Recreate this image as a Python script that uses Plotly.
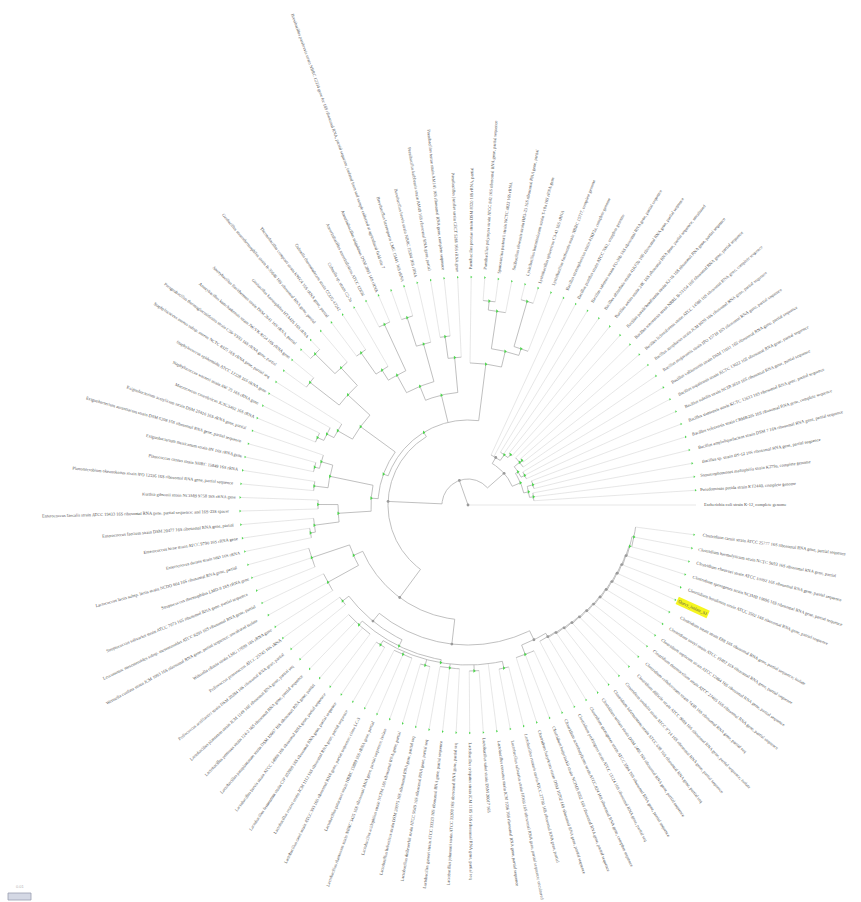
import math
import plotly.graph_objects as go

# ---------------- data ----------------
node_name = ["root", "A", "D", "Da", "Da1", "Da2", "Db", "Db1", "Db1a", "Db1b", "Db2", "Db2a", "Db2b", "Db2c",
             "B", "T", "Ta", "Ta1", "Ta1a", "Ta1a1", "Ta1b", "Ta1b1", "Tb", "Tb1", "Tb1a", "Tb2", "Tb2a", "Tb2a1",
             "Tb2b", "Tb2b1", "Tb2b2", "Tb2b3", "T2", "Tm", "Tm1", "Tm1a", "Tm1a1", "Tm1b", "Tm2", "Tm2a", "Tm2b",
             "L", "Lc1", "Lc1a", "Lc1a1", "Lc1b", "Lc2", "Lc2a", "Lc2b", "Lc2b1",
             "H", "H1", "H1a", "H1b", "E", "F", "F1", "F2", "F2a", "F2b", "F2b1", "F2b2", "F2b3", "F2b4", "F2b5", "F2b6",
             "G0", "Gsub", "G1", "G2", "G3", "G4", "G5", "G6", "G7", "G8", "G9", "G10", "G11", "G12", "G13", "G14", "G15"]
node_parent = [None, "root", "A", "D", "Da", "Da1", "D", "Db", "Db1", "Db1", "Db", "Db2", "Db2", "Db2b",
               "A", "B", "T", "Ta", "Ta1", "Ta1a", "Ta1", "Ta1b", "T", "Tb", "Tb1", "Tb", "Tb2", "Tb2a",
               "Tb2", "Tb2b", "Tb2b", "Tb2b2", "T", "T2", "Tm", "Tm1", "Tm1a", "Tm1", "Tm", "Tm2", "Tm2a",
               "T2", "L", "Lc1", "Lc1a", "Lc1", "L", "Lc2", "Lc2", "Lc2b",
               "B", "H", "H1", "H1", "H", "E", "F", "F", "F2", "F2", "F2b", "F2b", "F2b", "F2b", "F2b", "F2b",
               "E", "G0", "G0", "G1", "G2", "G3", "G4", "G5", "G6", "G7", "G8", "G9", "G10", "G11", "G12", "G13", "G14"]
node_radius = [0, 26, 48, 55, 62, 66, 57, 62, 66, 68, 60, 64, 67, 70,
               80, 85, 142, 158, 165, 212, 196, 205, 113, 148, 170, 128, 167, 197,
               148, 199, 160, 186, 90, 133, 163, 187, 215, 200, 150, 158, 165,
               97, 141, 153, 158, 155, 130, 150, 155, 160,
               115, 125, 165, 160, 140, 150, 158, 157, 162, 160, 165, 163, 166, 164, 166, 167,
               150, 160, 154, 155, 156, 157, 158, 159, 160, 161, 162, 163, 164, 165, 166, 167, 169]
node_mark = ["k", "k", "k", "k", "g", "g", "g", "g", "g", "g", "g", "g", "g", "g",
             "k", "g", "g", "g", "g", "g", "g", "g", "g", "g", "g", "g", "g", "g",
             "g", "g", "g", "g", "g", "g", "g", "g", "g", "g", "g", "g", "g",
             "g", "g", "g", "g", "g", "g", "g", "g", "g",
             "k", "g", "g", "g", "k", "k", "g", "g", "g", "g", "g", "g", "g", "g", "g", "g",
             "k", "g", "k", "k", "k", "k", "k", "k", "k", "k", "k", "k", "k", "k", "k", "g", "g"]

leaf_parent = (["Db1a"] * 3 + ["Db1b"] * 3 + ["Db2a"] * 3 + ["Db2b", "Db2c", "Db2c", "Db2b", "Da2", "Da2",
                "Da1", "Da1", "Da", "Da"] +
               ["Ta1a", "Ta1a1", "Ta1a1", "Ta1b", "Ta1b1", "Ta1b1", "Ta",
                "Tb1", "Tb1a", "Tb1a", "Tb2a", "Tb2a1", "Tb2a1", "Tb2b1", "Tb2b1", "Tb2b2", "Tb2b3", "Tb2b3",
                "Tm1a", "Tm1a1", "Tm1a1", "Tm1b", "Tm1b", "Tm2", "Tm2a", "Tm2b", "Tm2b",
                "Lc1a", "Lc1a1", "Lc1a1", "Lc1b", "Lc1b", "Lc2a", "Lc2a", "Lc2b", "Lc2b1", "Lc2b1",
                "H1a", "H1a", "H1a", "H1b", "H1b", "H1b",
                "F1", "F1", "F2a", "F2a", "F2a", "F2a", "F2b1", "F2b1", "F2b2", "F2b2", "F2b2",
                "F2b3", "F2b3", "F2b4", "F2b4", "F2b4", "F2b5", "F2b5", "F2b", "F2b6", "F2b6",
                "Gsub", "Gsub", "Gsub", "G1", "G2", "G3", "G4", "G5", "G6", "G7", "G8", "G9", "G10",
                "G11", "G12", "G13", "G14", "G15", "G15", "G15"])

leaf_label = [
    "Pseudomonas putida strain KT2440, complete genome",
    "Stenotrophomonas maltophilia strain K279a, complete genome",
    "Bacillus sp. strain BS-12 16S ribosomal RNA gene, partial sequence",
    "Bacillus amyloliquefaciens strain DSM 7 16S ribosomal RNA gene, partial sequence",
    "Bacillus velezensis strain CBMB205 16S ribosomal RNA gene, complete sequence",
    "Bacillus siamensis strain KCTC 13613 16S ribosomal RNA gene, partial sequence",
    "Bacillus subtilis strain NCIB 3610 16S ribosomal RNA gene, partial sequence",
    "Bacillus tequilensis strain KCTC 13622 16S ribosomal RNA gene, partial sequence",
    "Bacillus vallismortis strain DSM 11031 16S ribosomal RNA gene, partial sequence",
    "Bacillus mojavensis strain IFO 15718 16S ribosomal RNA gene, partial sequence",
    "Bacillus atrophaeus strain JCM 9070 16S ribosomal RNA gene, partial sequence",
    "Bacillus licheniformis strain ATCC 14580 16S ribosomal RNA gene, complete sequence",
    "Bacillus sonorensis strain NRRL B-23154 16S ribosomal RNA gene, partial sequence",
    "Bacillus paralicheniformis strain KJ-16 16S ribosomal RNA gene, partial sequence",
    "Bacillus aerius strain 24K 16S ribosomal RNA gene, partial sequence; uncultured",
    "Bacillus altitudinis strain 41KF2b 16S ribosomal RNA gene, partial sequence",
    "Bacillus safensis strain FO-36b 16S ribosomal RNA gene, partial sequence",
    "Bacillus pumilus strain ATCC 7061, complete genome",
    "Bacillus stratosphericus strain 41KF2a, complete genome",
    "Lysinibacillus fusiformis strain NBRC 15717, complete genome",
    "Lysinibacillus sphaericus C3-41 16S rRNA",
    "Lysinibacillus boronitolerans strain T-10a 16S rRNA gene",
    "Solibacillus silvestris strain HR3-23 16S ribosomal RNA gene, partial",
    "Sporosarcina pasteurii strain NCTC 4822 16S rRNA",
    "Paenibacillus polymyxa strain ATCC 842 16S ribosomal RNA gene, partial sequence",
    "Paenibacillus peoriae strain DSM 8320 16S rRNA, partial",
    "Paenibacillus jamilae strain CECT 5266 16S rRNA gene",
    "Paenibacillus terrae strain AM141 16S ribosomal RNA gene, complete sequence",
    "Paenibacillus kribbensis strain AM49 16S ribosomal RNA gene, partial",
    "Brevibacillus brevis strain NBRC 15304 16S rRNA",
    "Brevibacillus laterosporus LMG 15441 16S rRNA",
    "Brevibacillus parabrevis strain NBRC 12334 gene for 16S ribosomal RNA, partial sequence, isolated from soil sample collected at agricultural field site 7",
    "Aneurinibacillus migulanus DSM 2895 16S rRNA",
    "Aneurinibacillus aneurinilyticus ATCC 12856",
    "Cohnella sp. strain C2-7a",
    "Cohnella thermotolerans strain CCUG 47242",
    "Thermobacillus composti strain KWC4 16S rRNA gene, partial",
    "Geobacillus stearothermophilus strain R-35646 16S ribosomal RNA gene, partial",
    "Geobacillus kaustophilus HTA426 16S rRNA",
    "Anoxybacillus flavithermus strain DSM 2641 16S rRNA, partial",
    "Anoxybacillus kamchatkensis strain JW/VK-KG4 16S rRNA gene",
    "Parageobacillus thermoglucosidasius strain C56-YS93 16S rRNA gene, partial",
    "Staphylococcus aureus subsp. aureus NCTC 8325 16S rRNA gene, partial seq",
    "Staphylococcus epidermidis ATCC 12228 16S rRNA gene",
    "Staphylococcus warneri strain AW 25 16S rRNA gene",
    "Macrococcus caseolyticus JCSC5402 16S rRNA",
    "Exiguobacterium acetylicum strain DSM 20416 16S rRNA gene, partial",
    "Exiguobacterium aurantiacum strain DSM 6208 16S ribosomal RNA gene, partial sequence",
    "Exiguobacterium mexicanum strain 8N 16S rRNA gene",
    "Planococcus citreus strain NBRC 15849 16S rRNA",
    "Planomicrobium okeanokoites strain IFO 12536 16S ribosomal RNA gene, partial sequence",
    "Kurthia gibsonii strain NCIMB 9758 16S rRNA gene",
    "Enterococcus faecalis strain ATCC 19433 16S ribosomal RNA gene, partial sequence; and 16S-23S spacer",
    "Enterococcus faecium strain DSM 20477 16S ribosomal RNA gene, partial",
    "Enterococcus hirae strain ATCC 9790 16S rRNA gene",
    "Enterococcus durans strain 98D 16S rRNA",
    "Lactococcus lactis subsp. lactis strain NCDO 604 16S ribosomal RNA gene, partial",
    "Streptococcus thermophilus LMD-9 16S rRNA gene",
    "Streptococcus salivarius strain ATCC 7073 16S ribosomal RNA gene, partial sequence",
    "Leuconostoc mesenteroides subsp. mesenteroides ATCC 8293 16S ribosomal RNA gene, partial",
    "Weissella confusa strain JCM 1093 16S ribosomal RNA gene, partial sequence; uncultured isolate",
    "Weissella cibaria strain LMG 17699 16S rRNA gene",
    "Pediococcus pentosaceus ATCC 25745 16S rRNA",
    "Pediococcus acidilactici strain DSM 20284 16S ribosomal RNA gene, partial",
    "Lactobacillus plantarum strain JCM 1149 16S ribosomal RNA gene, partial seq",
    "Lactobacillus pentosus strain 124-2 16S ribosomal RNA gene, partial sequence",
    "Lactobacillus paraplantarum strain DSM 10667 16S ribosomal RNA gene, partial",
    "Lactobacillus brevis strain ATCC 14869 16S ribosomal RNA gene, partial sequence",
    "Lactobacillus fermentum strain CIP 102980 16S ribosomal RNA gene, partial sequence",
    "Lactobacillus reuteri strain JCM 1112 16S ribosomal RNA gene, partial sequence",
    "Lactobacillus casei strain ATCC 393 16S ribosomal RNA gene, partial sequence; clone LC-3",
    "Lactobacillus paracasei strain NBRC 15889 16S rRNA gene, partial",
    "Lactobacillus rhamnosus strain NBRC 3425 16S ribosomal RNA gene, partial sequence, isolate",
    "Lactobacillus acidophilus strain NCFM 16S ribosomal RNA gene, partial",
    "Lactobacillus helveticus strain DSM 20075 16S ribosomal RNA gene, partial seq",
    "Lactobacillus delbrueckii strain ATCC 9649 16S ribosomal RNA gene, partial seq",
    "Lactobacillus gasseri strain ATCC 33323 16S ribosomal RNA gene, partial sequence",
    "Lactobacillus johnsonii strain ATCC 33200 16S ribosomal RNA gene, partial seq",
    "Lactobacillus crispatus strain JCM 1185 16S ribosomal RNA gene, partial seq",
    "Lactobacillus sakei strain DSM 20017 16S",
    "Lactobacillus curvatus strain JCM 1096 16S ribosomal RNA gene, partial sequence",
    "Lactobacillus salivarius strain HO66 16S ribosomal RNA gene, partial sequence; uncultured",
    "Lactobacillus ruminis strain ATCC 27780 16S ribosomal RNA gene, partial",
    "Clostridium butyricum strain DSM 10702 16S ribosomal RNA gene, partial sequence",
    "Clostridium beijerinckii strain NCIMB 8052 16S ribosomal RNA gene, partial sequence",
    "Clostridium acetobutylicum strain ATCC 824 16S ribosomal RNA gene, complete sequence",
    "Clostridium perfringens strain ATCC 13124 16S ribosomal RNA gene, partial seq",
    "Clostridium sporogenes strain ATCC 3584 16S ribosomal RNA gene, partial sequence",
    "Clostridium tertium strain DSM 2485 16S ribosomal RNA gene, partial sequence",
    "Clostridium bifermentans strain ATCC 638 16S ribosomal RNA gene, partial seq",
    "Clostridium sordellii strain ATCC 9714 16S ribosomal RNA gene, partial sequence",
    "Clostridium difficile strain ATCC 9689 16S ribosomal RNA gene, partial sequence; isolate",
    "Clostridium cellulovorans strain 743B 16S ribosomal RNA gene, partial seq",
    "Clostridium thermocellum strain ATCC 27405 16S ribosomal RNA gene, partial sequence",
    "Clostridium septicum strain ATCC 12464 16S ribosomal RNA gene, partial sequence",
    "Clostridium novyi strain ATCC 19402 16S ribosomal RNA gene, partial sequence",
    "Clostridium tetani strain E88 16S ribosomal RNA gene, partial sequence; isolate",
    "Query_isolate_S1",
    "Clostridium botulinum strain ATCC 3502 16S ribosomal RNA gene, partial sequence",
    "Clostridium sporogenes strain NCIMB 10696 16S ribosomal RNA gene, partial sequence",
    "Clostridium chauvoei strain ATCC 10092 16S ribosomal RNA gene, partial sequence",
    "Clostridium haemolyticum strain NCTC 9693 16S ribosomal RNA gene, partial",
    "Clostridium carnis strain ATCC 25777 16S ribosomal RNA gene, partial sequence",
]
outgroup_label = "Escherichia coli strain K-12, complete genome"
highlight_label = "Query_isolate_S1"

# ---------------- layout constants ----------------
W, H = 861, 902
CX, CY = 468, 505            # tree centre on the page (pixels)
START_DEG, END_DEG = 3.7, 352.5
TIP_R, LABEL_R = 228, 231
FS = 4.4
CHAR_W = 0.46 * FS
GREEN = "#4cd64c"
BRANCH = "#ababab"
LEAFLINE = "#dcdcdc"

n = len(leaf_label)
step = (END_DEG - START_DEG) / (n - 1)
leaf_deg = [START_DEG + i * step for i in range(n)]

idx = {nm: i for i, nm in enumerate(node_name)}
children = {nm: [] for nm in node_name}   # entries: ("node", name) or ("leaf", i)
for nm, par in zip(node_name, node_parent):
    if par is not None:
        children[par].append(("node", nm))
for i, par in enumerate(leaf_parent):
    children[par].append(("leaf", i))
children["root"].append(("out", 0))

node_deg = {}


def angle_of(kind, key):
    if kind == "leaf":
        return leaf_deg[key]
    if kind == "out":
        return 0.0
    if key in node_deg:
        return node_deg[key]
    angs = [angle_of(k, c) for k, c in children[key]]
    if key == "root":
        node_deg[key] = 0.0
    else:
        node_deg[key] = (min(angs) + max(angs)) / 2
    return node_deg[key]


for nm in node_name:
    angle_of("node", nm)


def pol(r, d):
    a = math.radians(d)
    return r * math.cos(a), r * math.sin(a)


bx, by = [], []   # internal branches
lx, ly = [], []   # leaf branches
for nm in node_name:
    r = node_radius[idx[nm]]
    kids = children[nm]
    angs = [angle_of(k, c) for k, c in kids]
    if nm != "root":
        a0, a1 = min(angs), max(angs)
        m = max(2, int((a1 - a0) / 0.5) + 1)
        for j in range(m + 1):
            x, y = pol(r, a0 + (a1 - a0) * j / m)
            bx.append(x); by.append(y)
        bx.append(None); by.append(None)
    for (k, c), a in zip(kids, angs):
        if k == "node":
            x0, y0 = pol(r, a); x1, y1 = pol(node_radius[idx[c]], a)
            bx += [x0, x1, None]; by += [y0, y1, None]
        else:
            x0, y0 = pol(r, a); x1, y1 = pol(TIP_R, a)
            lx += [x0, x1, None]; ly += [y0, y1, None]

fig = go.Figure()
fig.add_trace(go.Scatter(x=lx, y=ly, mode="lines", line=dict(color=LEAFLINE, width=0.7),
                         hoverinfo="skip", showlegend=False))
fig.add_trace(go.Scatter(x=bx, y=by, mode="lines", line=dict(color=BRANCH, width=0.75),
                         hoverinfo="skip", showlegend=False))

gx, gy, kx, ky = [], [], [], []
for nm in node_name:
    x, y = pol(node_radius[idx[nm]], node_deg[nm])
    if node_mark[idx[nm]] == "g":
        gx.append(x); gy.append(y)
    else:
        kx.append(x); ky.append(y)
fig.add_trace(go.Scatter(x=gx, y=gy, mode="markers", marker=dict(color=GREEN, size=3.2, symbol="triangle-right"),
                         hoverinfo="skip", showlegend=False))
fig.add_trace(go.Scatter(x=kx, y=ky, mode="markers", marker=dict(color="#9a9a9a", size=2.8),
                         hoverinfo="skip", showlegend=False))
tx = [pol(TIP_R, d)[0] for d in leaf_deg]
ty = [pol(TIP_R, d)[1] for d in leaf_deg]
fig.add_trace(go.Scatter(x=tx, y=ty, mode="markers", marker=dict(color=GREEN, size=2.3, symbol="triangle-right"),
                         hoverinfo="skip", showlegend=False))

annotations = []
all_labels = [(d, t) for d, t in zip(leaf_deg, leaf_label)] + [(0.0, outgroup_label)]
for d, t in all_labels:
    w = CHAR_W * len(t)
    x, y = pol(LABEL_R + w / 2, d)
    dd = d % 360
    if 90 < dd < 270:
        ang = 180 - dd
    else:
        ang = -dd if dd <= 90 else 360 - dd
    if ang > 180:
        ang -= 360
    if ang < -180:
        ang += 360
    hl = (t == highlight_label)
    annotations.append(dict(x=x, y=y, text=t, showarrow=False, textangle=ang,
                            xanchor="center", yanchor="middle",
                            font=dict(family="Liberation Serif", size=FS, color="#505050"),
                            bgcolor="#f5f51f" if hl else None, borderpad=1 if hl else 0))

# small scale bar at the bottom left
annotations.append(dict(x=20 - CX, y=CY - 886, text="0.01", showarrow=False,
                        font=dict(family="Liberation Sans", size=4, color="#b5b5b5")))
shapes = [dict(type="rect", x0=8 - CX, x1=31 - CX, y0=CY - 900, y1=CY - 893,
               line=dict(color="#9aa0b0", width=0.8), fillcolor="#d4d8e4")]

fig.update_layout(width=W, height=H, margin=dict(l=0, r=0, t=0, b=0), autosize=False,
                  paper_bgcolor="white", plot_bgcolor="white",
                  xaxis=dict(range=[-CX, W - CX], visible=False, fixedrange=True),
                  yaxis=dict(range=[CY - H, CY], visible=False, fixedrange=True),
                  annotations=annotations, shapes=shapes)
fig.write_html("out.html")
